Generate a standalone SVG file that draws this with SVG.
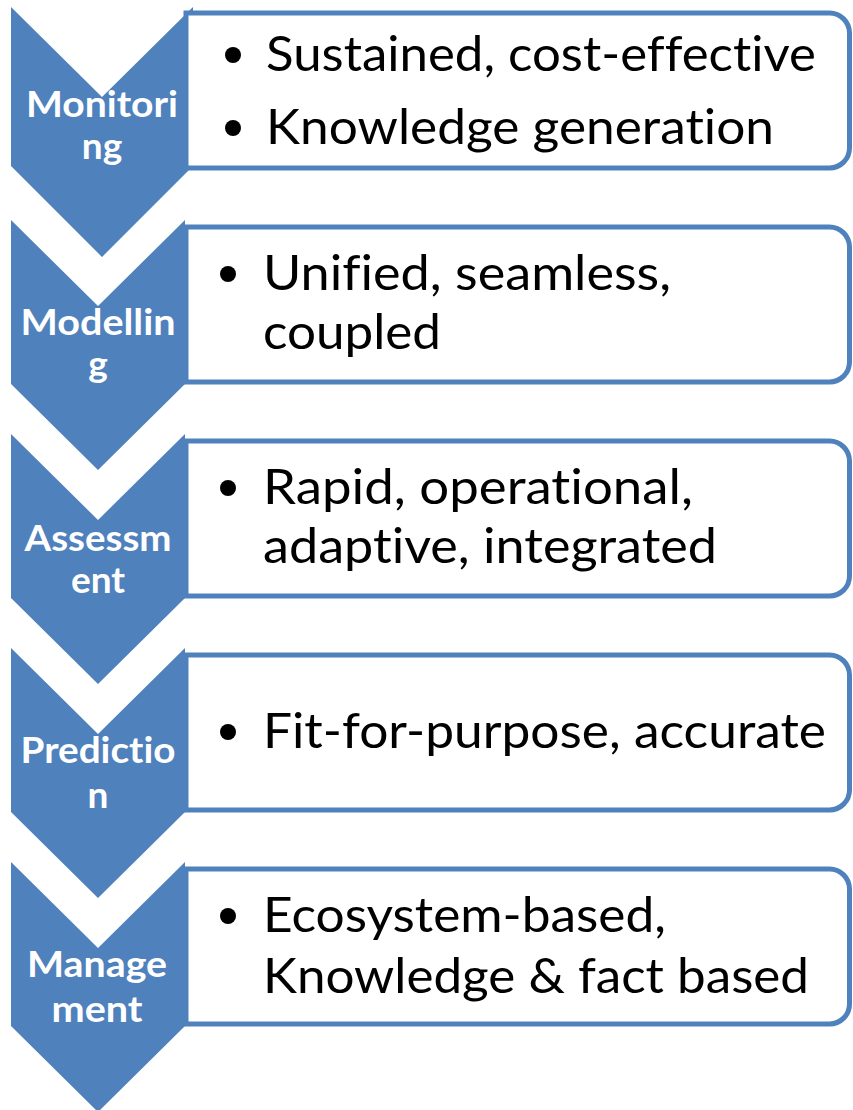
<svg xmlns="http://www.w3.org/2000/svg" width="853" height="1110" viewBox="0 0 853 1110">
  <style>
    .chev { fill: #4F81BD; }
    .box { fill: #FFFFFF; stroke: #4F81BD; stroke-width: 5; }
    text { font-variant-ligatures: none; font-feature-settings: "liga" 0, "clig" 0; }
    .lbl { font-family: Lato, "Liberation Sans", sans-serif; font-weight: bold; font-size: 37px; fill: #FFFFFF; text-anchor: middle; }
    .txt { font-family: Lato, "Liberation Sans", sans-serif; font-size: 49px; fill: #000000; }
    .dot { fill: #000000; }
  </style>
  <rect width="853" height="1110" fill="#FFFFFF"/>

  <!-- Step 1 -->
  <g id="monitoring">
    <polygon class="chev" points="11,7 102,97 193,7 193,166 102,257 11,166"/>
    <path class="box" d="M186,13 H829.5 A20,20 0 0 1 849.5,33 V148 A20,20 0 0 1 829.5,168 H186 Z"/>
    <text class="lbl" x="102" y="117" textLength="152" lengthAdjust="spacingAndGlyphs">Monitori</text>
    <text class="lbl" x="102" y="159">ng</text>
    <circle class="dot" cx="233" cy="55" r="8"/>
    <text class="txt" x="266" y="71" textLength="550" lengthAdjust="spacingAndGlyphs">Sustained, cost-effective</text>
    <circle class="dot" cx="233" cy="128" r="8"/>
    <text class="txt" x="266" y="144" textLength="508" lengthAdjust="spacingAndGlyphs">Knowledge generation</text>
  </g>

  <!-- Step 2 -->
  <g id="modelling">
    <polygon class="chev" points="11,220 98,306 185,220 185,384 98,470 11,384"/>
    <path class="box" d="M186,227 H829.5 A20,20 0 0 1 849.5,247 V362 A20,20 0 0 1 829.5,382 H186 Z"/>
    <text class="lbl" x="98" y="335" textLength="155" lengthAdjust="spacingAndGlyphs">Modellin</text>
    <text class="lbl" x="98" y="377">g</text>
    <circle class="dot" cx="228" cy="274" r="8"/>
    <text class="txt" x="263" y="290" textLength="408" lengthAdjust="spacingAndGlyphs">Unified, seamless,</text>
    <text class="txt" x="263" y="349" textLength="178" lengthAdjust="spacingAndGlyphs">coupled</text>
  </g>

  <!-- Step 3 -->
  <g id="assessment">
    <polygon class="chev" points="11,434 98,520 185,434 185,598 98,684 11,598"/>
    <path class="box" d="M186,441 H829.5 A20,20 0 0 1 849.5,461 V576 A20,20 0 0 1 829.5,596 H186 Z"/>
    <text class="lbl" x="98" y="551" textLength="147" lengthAdjust="spacingAndGlyphs">Assessm</text>
    <text class="lbl" x="98" y="593">ent</text>
    <circle class="dot" cx="228" cy="488" r="8"/>
    <text class="txt" x="263" y="504" textLength="430" lengthAdjust="spacingAndGlyphs">Rapid, operational,</text>
    <text class="txt" x="263" y="563" textLength="454" lengthAdjust="spacingAndGlyphs">adaptive, integrated</text>
  </g>

  <!-- Step 4 -->
  <g id="prediction">
    <polygon class="chev" points="11,648 98,734 185,648 185,812 98,898 11,812"/>
    <path class="box" d="M186,655 H829.5 A20,20 0 0 1 849.5,675 V790 A20,20 0 0 1 829.5,810 H186 Z"/>
    <text class="lbl" x="98" y="763" textLength="155" lengthAdjust="spacingAndGlyphs">Predictio</text>
    <text class="lbl" x="98" y="808">n</text>
    <circle class="dot" cx="228" cy="732" r="8"/>
    <text class="txt" x="263" y="748" textLength="563" lengthAdjust="spacingAndGlyphs">Fit-for-purpose, accurate</text>
  </g>

  <!-- Step 5 -->
  <g id="management">
    <polygon class="chev" points="11,862 98,948 185,862 185,1026 98,1112 11,1026"/>
    <path class="box" d="M186,869 H829.5 A20,20 0 0 1 849.5,889 V1004 A20,20 0 0 1 829.5,1024 H186 Z"/>
    <text class="lbl" x="97" y="977" textLength="140" lengthAdjust="spacingAndGlyphs">Manage</text>
    <text class="lbl" x="97" y="1022" textLength="91" lengthAdjust="spacingAndGlyphs">ment</text>
    <circle class="dot" cx="228" cy="916" r="8"/>
    <text class="txt" x="263" y="932" textLength="403" lengthAdjust="spacingAndGlyphs">Ecosystem-based,</text>
    <text class="txt" x="263" y="993" textLength="546" lengthAdjust="spacingAndGlyphs">Knowledge &amp; fact based</text>
  </g>

  <g id="connectors"/>
</svg>
